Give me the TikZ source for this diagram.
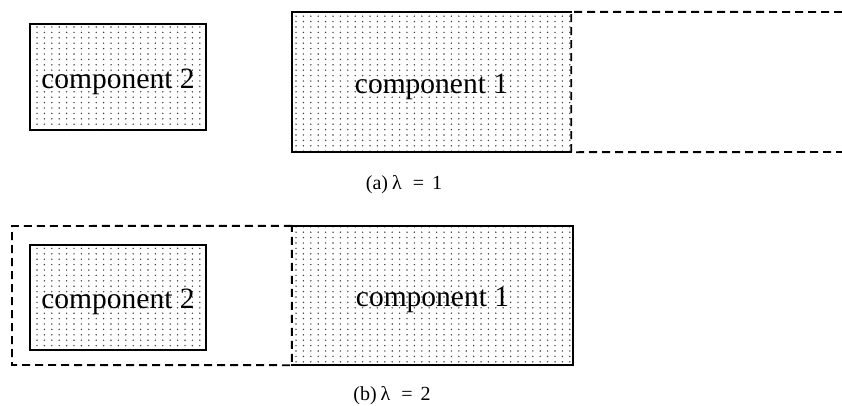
\documentclass[tikz,border=0pt]{standalone}
\usepackage{fontspec}
\setmainfont{Liberation Serif}
\usetikzlibrary{patterns}
\pgfdeclarepatternformonly{dotgrid}{\pgfpoint{-1pt}{-1pt}}{\pgfpoint{1pt}{1pt}}{\pgfpoint{7.4pt}{5.4pt}}{\pgfpathcircle{\pgfpointorigin}{0.8pt}\pgfusepath{fill}}
\tikzset{
  comp/.style={rectangle, draw=none, pattern=dotgrid, pattern color=black!75, inner sep=0pt,
    font=\fontsize{29.5}{31}\selectfont, text height=25pt, text depth=3pt},
  solidedge/.style={line width=2.3pt, line cap=rect},
  dashedge/.style={line width=1.9pt, dash pattern=on 8pt off 5pt},
  captionstyle/.style={font=\fontsize{20}{22}\selectfont, anchor=base, inner sep=0pt}
}
\begin{document}
\begin{tikzpicture}[x=1pt,y=-1pt]
\useasboundingbox (0,0) rectangle (842,405);
% ---------- (a) ----------
\node[comp, minimum width=176pt, minimum height=106pt] (c2a) at (118,77) {component 2};
\draw[solidedge] (c2a.north west) rectangle (c2a.south east);
\node[comp, minimum width=279pt, minimum height=140pt] (c1a) at (431.5,82) {component 1};
\coordinate (ea1) at (842,12);
\coordinate (ea2) at (842,152);
\draw[dashedge] (ea1) -- (c1a.north east) -- (c1a.south east) -- (ea2);
\draw[solidedge] (c1a.north east) -- (c1a.north west) -- (c1a.south west) -- (c1a.south east);
\node[captionstyle] (capa) at (404,189) {(a)\hspace{4pt}λ\hspace{11pt}=\hspace{8pt}1};
% ---------- (b) ----------
\node[comp, minimum width=176pt, minimum height=105pt] (c2b) at (118,297.5) {component 2};
\draw[solidedge] (c2b.north west) rectangle (c2b.south east);
\node[comp, minimum width=281pt, minimum height=139pt] (c1b) at (432.5,295.5) {component 1};
\coordinate (eb1) at (12,226);
\coordinate (eb2) at (12,365);
\draw[dashedge] (c1b.north west) -- (eb1) -- (eb2) -- (c1b.south west) -- cycle;
\draw[solidedge] (c1b.north west) -- (c1b.north east) -- (c1b.south east) -- (c1b.south west);
\node[captionstyle] (capb) at (392,400) {(b)\hspace{4pt}λ\hspace{11pt}=\hspace{8pt}2};
\end{tikzpicture}
\end{document}
